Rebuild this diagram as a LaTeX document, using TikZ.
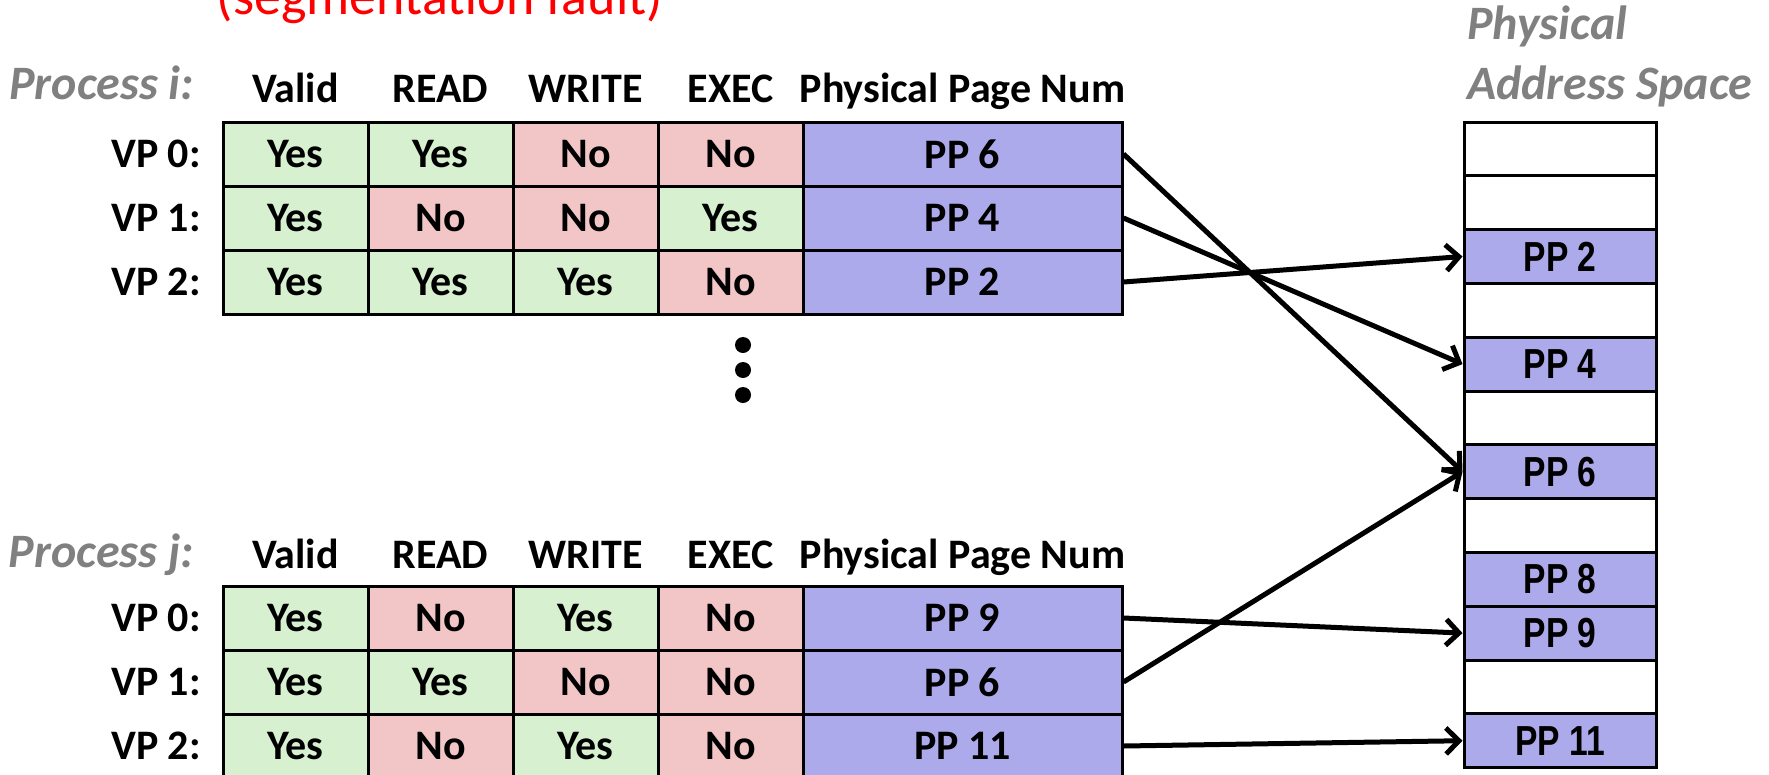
\documentclass[tikz,border=0pt]{standalone}
\usepackage{fontspec}
\setmainfont{Carlito}
\newfontfamily\narrowsans[FakeStretch=0.8]{Liberation Sans}
\usetikzlibrary{arrows.meta}
\definecolor{yescol}{RGB}{214,240,208}
\definecolor{nocol}{RGB}{242,198,198}
\definecolor{ppcol}{RGB}{172,170,234}
\definecolor{labelgray}{RGB}{128,128,128}
\definecolor{faultred}{RGB}{255,0,0}

\begin{document}
\begin{tikzpicture}[x=1pt,y=-1pt,
  cell/.style={draw,line width=3pt,minimum width=145pt,minimum height=64pt,inner sep=0pt,font=\fontsize{42}{44}\selectfont\bfseries},
  yescell/.style={cell,fill=yescol},
  nocell/.style={cell,fill=nocol},
  ppncell/.style={cell,fill=ppcol,minimum width=319pt},
  slot/.style={draw,line width=3pt,fill=white,minimum width=192pt,minimum height=53.8pt,inner sep=0pt,font=\fontsize{42}{44}\selectfont\narrowsans\bfseries},
  usedslot/.style={slot,fill=ppcol},
  head/.style={anchor=base,font=\fontsize{42}{44}\selectfont\bfseries},
  vplabel/.style={anchor=east,inner sep=0pt,font=\fontsize{42}{44}\selectfont\bfseries},
  graylabel/.style={inner sep=0pt,text=labelgray,font=\fontsize{48}{50}\selectfont\bfseries\itshape},
  link/.style={line width=5pt,-{Straight Barb[length=13pt,width=26pt,line width=5pt]}}
]
\useasboundingbox (0,0) rectangle (1769,774);
\clip (0,0) rectangle (1769,774);

% fault note, cut off at the top
\node[anchor=base,inner sep=0pt,text=faultred,font=\fontsize{54}{56}\selectfont] (fault) at (440,14) {(segmentation fault)};

% process i
\node[graylabel,anchor=base east] (proci) at (194,99) {Process i:};
\node[head] (hvi) at (295.5,102) {Valid};
\node[head] (hri) at (440.5,102) {READ};
\node[head] (hwi) at (585.5,102) {WRITE};
\node[head] (hxi) at (730.5,102) {EXEC};
\node[head] (hpi) at (962.5,102) {Physical Page Num};

\node[vplabel] (vpi0) at (201,154) {VP 0:};
\node[vplabel] (vpi1) at (201,218) {VP 1:};
\node[vplabel] (vpi2) at (201,282) {VP 2:};

\node[yescell] (i0v) at (295.5,154) {Yes};
\node[yescell] (i0r) at (440.5,154) {Yes};
\node[nocell]  (i0w) at (585.5,154) {No};
\node[nocell]  (i0x) at (730.5,154) {No};
\node[ppncell] (i0p) at (962.5,154) {PP 6};

\node[yescell] (i1v) at (295.5,218) {Yes};
\node[nocell]  (i1r) at (440.5,218) {No};
\node[nocell]  (i1w) at (585.5,218) {No};
\node[yescell] (i1x) at (730.5,218) {Yes};
\node[ppncell] (i1p) at (962.5,218) {PP 4};

\node[yescell] (i2v) at (295.5,282) {Yes};
\node[yescell] (i2r) at (440.5,282) {Yes};
\node[yescell] (i2w) at (585.5,282) {Yes};
\node[nocell]  (i2x) at (730.5,282) {No};
\node[ppncell] (i2p) at (962.5,282) {PP 2};

% vertical dots
\fill (743,345) circle (8);
\fill (743,370) circle (8);
\fill (743,395) circle (8);

% process j
\node[graylabel,anchor=base east] (procj) at (194,567) {Process j:};
\node[head] (hvj) at (295.5,568) {Valid};
\node[head] (hrj) at (440.5,568) {READ};
\node[head] (hwj) at (585.5,568) {WRITE};
\node[head] (hxj) at (730.5,568) {EXEC};
\node[head] (hpj) at (962.5,568) {Physical Page Num};

\node[vplabel] (vpj0) at (201,618) {VP 0:};
\node[vplabel] (vpj1) at (201,682) {VP 1:};
\node[vplabel] (vpj2) at (201,746) {VP 2:};

\node[yescell] (j0v) at (295.5,618) {Yes};
\node[nocell]  (j0r) at (440.5,618) {No};
\node[yescell] (j0w) at (585.5,618) {Yes};
\node[nocell]  (j0x) at (730.5,618) {No};
\node[ppncell] (j0p) at (962.5,618) {PP 9};

\node[yescell] (j1v) at (295.5,682) {Yes};
\node[yescell] (j1r) at (440.5,682) {Yes};
\node[nocell]  (j1w) at (585.5,682) {No};
\node[nocell]  (j1x) at (730.5,682) {No};
\node[ppncell] (j1p) at (962.5,682) {PP 6};

\node[yescell] (j2v) at (295.5,746) {Yes};
\node[nocell]  (j2r) at (440.5,746) {No};
\node[yescell] (j2w) at (585.5,746) {Yes};
\node[nocell]  (j2x) at (730.5,746) {No};
\node[ppncell] (j2p) at (962.5,746) {PP 11};

% physical address space
\node[graylabel,anchor=base west] (physl1) at (1467,39) {Physical};
\node[graylabel,anchor=base west] (physl2) at (1467,99) {Address Space};

\node[slot]     (s0)  at (1560,148.9) {};
\node[slot]     (s1)  at (1560,202.7) {};
\node[usedslot] (s2)  at (1560,256.5) {PP 2};
\node[slot]     (s3)  at (1560,310.3) {};
\node[usedslot] (s4)  at (1560,364.1) {PP 4};
\node[slot]     (s5)  at (1560,417.9) {};
\node[usedslot] (s6)  at (1560,471.7) {PP 6};
\node[slot]     (s7)  at (1560,525.5) {};
\node[usedslot] (s8)  at (1560,579.3) {PP 8};
\node[usedslot] (s9)  at (1560,633.1) {PP 9};
\node[slot]     (s10) at (1560,686.9) {};
\node[usedslot] (s11) at (1560,740.7) {PP 11};

% mappings
\draw[link] (i0p.east) -- (s6.west);
\draw[link] (i1p.east) -- (s4.west);
\draw[link] (i2p.east) -- (s2.west);
\draw[link] (j0p.east) -- (s9.west);
\draw[link] (j1p.east) -- (s6.west);
\draw[link] (j2p.east) -- (s11.west);
\end{tikzpicture}
\end{document}
